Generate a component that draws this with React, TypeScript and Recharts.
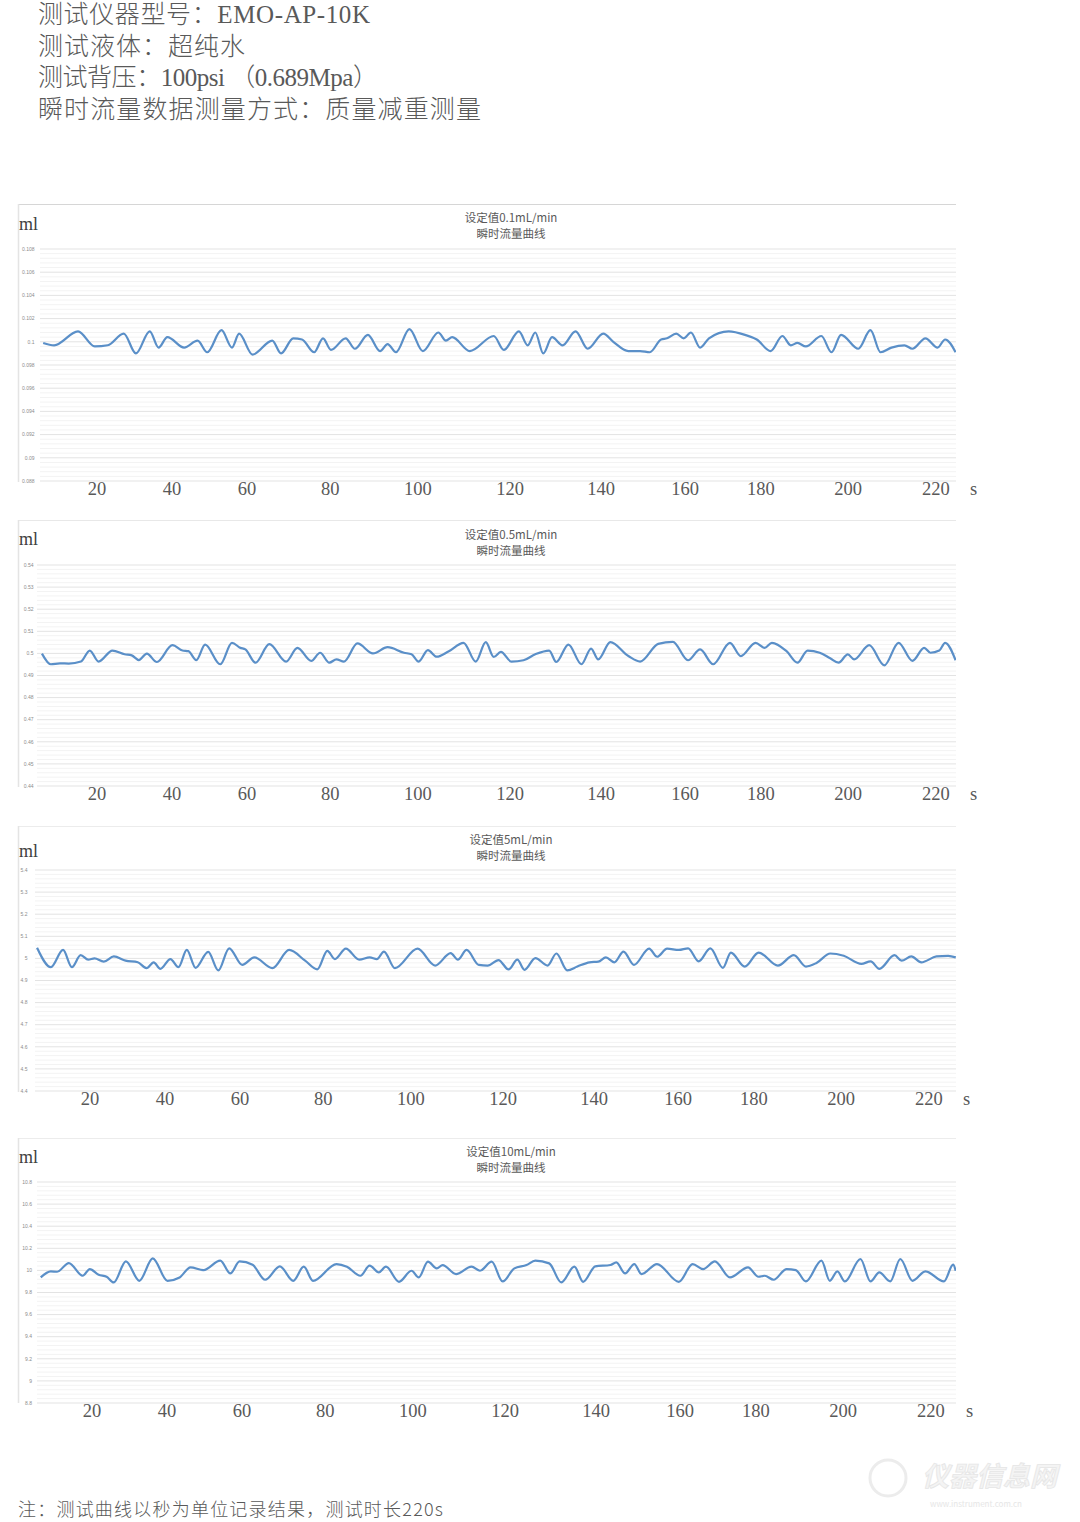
import React from 'react';
import { LineChart, Line, XAxis, YAxis, CartesianGrid, ReferenceLine } from 'recharts';

// x axis labels (seconds) and where they sit on the time scale of each chart
const tickLabels = ['20', '40', '60', '80', '100', '120', '140', '160', '180', '200', '220'];
const tickPos = [20, 37.9, 55.8, 75.6, 96.5, 118.5, 140.2, 160.2, 178.3, 199.1, 220];

// 设定值0.1mL/min
const t1 = [
  7.2, 9.8, 15.5, 19.5, 22.6, 26.4, 29.3, 32.6, 34.7, 36.8,
  40.8, 44.0, 46.3, 49.7, 52.2, 53.9, 57.1, 61.8, 63.9, 66.8,
  68.9, 71.8, 73.9, 75.8, 79.3, 81.5, 84.6, 87.5, 89.3, 91.3,
  94.5, 97.7, 101.4, 103.2, 104.7, 108.9, 114.6, 117.0, 120.6, 122.7,
  124.5, 126.4, 128.5, 131.0, 134.1, 137.0, 140.7, 143.1, 146.7, 149.5,
  151.8, 154.5, 155.9, 158.1, 159.9, 161.6, 163.8, 165.9, 170.6, 174.5,
  177.3, 180.6, 183.4, 185.4, 187.0, 189.0, 192.7, 195.1, 197.4, 201.5,
  204.4, 206.8, 209.4, 212.5, 214.4, 217.5, 220.4, 222.2, 224.7,
];
const v1 = [
  0.0999, 0.0997, 0.1009, 0.0996, 0.0997, 0.1007, 0.099, 0.1009, 0.0995, 0.1004,
  0.0995, 0.1001, 0.0991, 0.101, 0.0995, 0.1007, 0.0989, 0.1001, 0.099, 0.1003,
  0.1002, 0.0991, 0.1003, 0.0993, 0.1003, 0.0994, 0.1006, 0.0992, 0.0998, 0.0991,
  0.1011, 0.0992, 0.1008, 0.1001, 0.1004, 0.0992, 0.1005, 0.0993, 0.1009, 0.0997,
  0.1008, 0.099, 0.1004, 0.0997, 0.1009, 0.0994, 0.1007, 0.1, 0.0992, 0.0992,
  0.0991, 0.1002, 0.1003, 0.1007, 0.1003, 0.1008, 0.0995, 0.1003, 0.1009, 0.1006,
  0.1002, 0.0992, 0.1005, 0.0997, 0.0999, 0.0996, 0.1005, 0.0991, 0.1006, 0.0994,
  0.101, 0.0991, 0.0995, 0.0997, 0.0994, 0.1003, 0.0995, 0.1002, 0.0991,
];

// 设定值0.5mL/min
const t2 = [
  6.9, 9.0, 11.2, 13.3, 16.2, 18.3, 20.4, 23.7, 26.6, 28.3,
  30.0, 31.9, 34.3, 38.0, 40.4, 41.8, 43.7, 45.8, 49.4, 52.2,
  54.2, 55.4, 57.8, 61.1, 65.1, 67.8, 71.1, 73.2, 75.4, 77.1,
  78.9, 82.1, 85.8, 89.3, 93.2, 95.0, 96.7, 98.9, 101.0, 103.9,
  107.4, 110.3, 112.7, 114.6, 116.3, 118.8, 121.7, 124.5, 127.8, 129.5,
  132.4, 135.5, 137.8, 139.5, 142.4, 146.7, 149.5, 153.8, 157.3, 160.9,
  163.8, 166.9, 170.9, 173.5, 177.0, 179.2, 180.9, 184.4, 187.0, 189.4,
  192.3, 194.8, 196.8, 199.0, 200.5, 204.1, 207.7, 211.1, 214.4, 217.2,
  218.7, 220.8, 222.2, 224.7,
];
const v2 = [
  0.4999, 0.4951, 0.4955, 0.4954, 0.4963, 0.5013, 0.4963, 0.5013, 0.4996, 0.4991,
  0.497, 0.4999, 0.4961, 0.5037, 0.5013, 0.501, 0.497, 0.504, 0.4951, 0.5048,
  0.5025, 0.5018, 0.4958, 0.5042, 0.4963, 0.5025, 0.4966, 0.5003, 0.4958, 0.4973,
  0.4963, 0.5045, 0.5, 0.5028, 0.5003, 0.4996, 0.4963, 0.5015, 0.4985, 0.501,
  0.5048, 0.4963, 0.5051, 0.4984, 0.5007, 0.4963, 0.4969, 0.4996, 0.5013, 0.4961,
  0.504, 0.4951, 0.5022, 0.4973, 0.5051, 0.4988, 0.4963, 0.5043, 0.5052, 0.4969,
  0.5018, 0.4951, 0.5048, 0.4988, 0.5048, 0.5025, 0.5048, 0.501, 0.4958, 0.5013,
  0.5003, 0.4978, 0.4958, 0.4996, 0.4973, 0.5037, 0.4946, 0.5048, 0.4966, 0.5025,
  0.5003, 0.5013, 0.5048, 0.4969,
];

// 设定值5mL/min
const t3 = [
  7.4, 10.7, 13.6, 15.7, 17.8, 19.6, 21.1, 23.3, 25.7, 28.5,
  31.4, 33.5, 35.2, 36.8, 39.2, 41.1, 43.1, 45.2, 48.2, 50.6,
  53.2, 56.3, 59.2, 63.5, 67.5, 71.3, 74.2, 76.6, 78.4, 81.0,
  84.2, 86.7, 88.4, 90.1, 92.7, 98.1, 102.3, 106.0, 107.7, 109.8,
  112.7, 114.8, 117.4, 119.8, 121.9, 123.6, 126.2, 129.1, 131.2, 133.8,
  136.2, 139.1, 141.2, 143.0, 145.0, 147.2, 149.7, 153.3, 155.2, 157.6,
  160.4, 162.6, 165.1, 167.9, 170.9, 172.8, 176.1, 179.4, 184.0, 187.8,
  190.7, 193.2, 196.5, 199.7, 203.9, 206.1, 208.2, 211.8, 213.5, 215.8,
  218.2, 221.8, 224.6, 226.4,
];
const v3 = [
  5.0485, 4.9603, 5.0382, 4.9603, 5.0147, 4.9941, 5.0, 4.9853, 5.0088, 4.9897,
  4.9824, 4.9559, 4.9824, 4.9529, 4.9971, 4.9603, 5.0382, 4.9574, 5.0294, 4.9456,
  5.0456, 4.9706, 5.0044, 4.9559, 5.0382, 4.9897, 4.95, 5.0338, 4.9971, 5.0441,
  4.9941, 5.0044, 4.9971, 5.0309, 4.9559, 5.0441, 4.9676, 5.0235, 4.9941, 5.0382,
  4.9706, 4.9676, 4.9926, 4.95, 4.9941, 4.9485, 5.0015, 4.9676, 5.0221, 4.9456,
  4.9632, 4.9824, 4.9853, 5.0044, 4.9824, 5.0309, 4.9706, 5.0441, 5.0074, 5.0441,
  5.0382, 5.0456, 4.9868, 5.0456, 4.9574, 5.0265, 4.9632, 5.0265, 4.9676, 5.0147,
  4.9632, 4.9794, 5.0221, 5.0118, 4.975, 4.9868, 4.9529, 5.0147, 4.9897, 5.0088,
  4.9824, 5.0088, 5.0118, 5.0044,
];

// 设定值10mL/min
const t4 = [
  7.8, 10.2, 11.7, 14.5, 17.8, 19.5, 21.6, 23.5, 25.2, 28.1,
  31.3, 34.5, 38.0, 40.9, 43.5, 46.6, 50.6, 53.0, 55.2, 58.3,
  61.3, 64.8, 68.0, 70.5, 72.7, 78.3, 80.8, 84.0, 86.2, 88.4,
  90.1, 93.2, 96.2, 97.9, 100.1, 102.2, 103.6, 106.8, 110.5, 112.5,
  115.3, 117.9, 120.7, 123.6, 125.7, 129.0, 131.9, 135.0, 137.1, 140.0,
  143.6, 145.0, 147.1, 149.3, 151.0, 154.7, 159.9, 163.2, 165.7, 168.5,
  172.1, 176.4, 178.9, 180.4, 182.5, 185.6, 187.8, 190.2, 193.9, 195.9,
  197.7, 199.5, 203.2, 205.6, 207.7, 210.3, 212.7, 215.6, 218.7, 223.1,
  225.3, 225.9,
];
const v4 = [
  9.9364, 9.9909, 9.9879, 10.0667, 9.9515, 10.0121, 9.9606, 9.9424, 9.8909, 10.0818,
  9.9061, 10.1091, 9.9061, 9.9364, 10.0273, 10.003, 10.0879, 9.9727, 10.0818, 10.0515,
  9.9152, 10.0364, 9.9061, 10.0333, 9.9061, 10.0576, 10.0333, 9.9515, 10.0424, 9.9818,
  10.0333, 9.897, 9.997, 9.9364, 10.0788, 10.0182, 10.0485, 9.9667, 10.0333, 9.997,
  10.0788, 9.9, 10.0182, 10.0485, 10.0879, 10.0636, 9.8909, 10.0333, 9.897, 10.0364,
  10.0485, 10.0727, 9.9727, 10.0576, 9.9667, 10.0576, 9.897, 10.0576, 10.0121, 10.0818,
  9.9364, 10.0273, 9.9424, 9.9515, 9.9152, 10.0121, 10.003, 9.9, 10.0879, 9.9061,
  9.9909, 9.9, 10.103, 9.9, 9.9818, 9.9, 10.103, 9.9061, 9.9909, 9.9,
  10.0515, 9.997,
];

// y axis tick labels
const yTicks1 = ['0.088', '0.09', '0.092', '0.094', '0.096', '0.098', '0.1', '0.102', '0.104', '0.106', '0.108'];
const yTicks2 = ['0.44', '0.45', '0.46', '0.47', '0.48', '0.49', '0.5', '0.51', '0.52', '0.53', '0.54'];
const yTicks3 = ['4.4', '4.5', '4.6', '4.7', '4.8', '4.9', '5', '5.1', '5.2', '5.3', '5.4'];
const yTicks4 = ['8.8', '9', '9.2', '9.4', '9.6', '9.8', '10', '10.2', '10.4', '10.6', '10.8'];

const titles = ['设定值0.1mL/min', '设定值0.5mL/min', '设定值5mL/min', '设定值10mL/min'];
const subTitle = '瞬时流量曲线';

const header = [
  '测试仪器型号：EMO-AP-10K',
  '测试液体：超纯水',
  '测试背压：100psi （0.689Mpa）',
  '瞬时流量数据测量方式：质量减重测量',
];
const footer = '注：测试曲线以秒为单位记录结果，测试时长220s';

const LINE = '#5a8fc8';
const TEXT = '#595959';
const SERIF = '"Liberation Serif", "Noto Sans CJK SC", serif';
const CJK = '"Noto Sans CJK SC", "Liberation Sans", sans-serif';
const PLOT_RIGHT = 956;
const TOP_PAD = 6;

// widths the header lines take in the reference
const headerWidths = [332, 207, 340, 443];

const toRows = (ts: number[], vs: number[]) => ts.map((t, i) => ({ t, v: vs[i] }));

// 5 minor divisions between major gridlines
const minorOf = (major: number[]) =>
  major.slice(0, -1).flatMap((a, i) => [1, 2, 3, 4].map((k) => a + ((major[i + 1] - a) * k) / 5));

const panels = [
  { data: toRows(t1, v1), yTicks: yTicks1, frameTop: 204, frameBottom: 482, frameColor: '#d6d6d6',
    plotLeft: 40, plotTop: 249, plotBottom: 481, xDomain: [6.44, 224.79], labelEnd: 34.5,
    mlBase: 230, titleBase: 221.5, sX: 970 },
  { data: toRows(t2, v2), yTicks: yTicks2, frameTop: 520, frameBottom: 787, frameColor: '#e8e8e8',
    plotLeft: 37, plotTop: 565, plotBottom: 786, xDomain: [5.72, 224.79], labelEnd: 33.5,
    mlBase: 545, titleBase: 538.5, sX: 970 },
  { data: toRows(t3, v3), yTicks: yTicks3, frameTop: 826, frameBottom: 1092, frameColor: '#ececec',
    plotLeft: 35, plotTop: 870, plotBottom: 1091, xDomain: [6.91, 226.46], labelEnd: 27.5,
    mlBase: 857, titleBase: 843.5, sX: 963 },
  { data: toRows(t4, v4), yTicks: yTicks4, frameTop: 1138, frameBottom: 1403, frameColor: '#ececec',
    plotLeft: 37, plotTop: 1182, plotBottom: 1403, xDomain: [6.91, 225.98], labelEnd: 32,
    mlBase: 1163, titleBase: 1155.5, sX: 966 },
];

const XTick = (props: any) => {
  const { x, y, payload } = props;
  const i = tickPos.indexOf(payload.value);
  return (
    <text x={x} y={y} dy={14} textAnchor="middle" fontFamily={SERIF} fontSize={18.5} fill={TEXT}>
      {tickLabels[i]}
    </text>
  );
};

export default function App() {
  return (
    <div style={{ position: 'relative', width: 1080, height: 1522, background: '#fff', overflow: 'hidden' }}>
      <style>{'body{margin:0}'}</style>

      {/* static texts and frames */}
      <svg width={1080} height={1522} style={{ position: 'absolute', left: 0, top: 0 }}>
        {header.map((line, i) => (
          <text key={i} x={38} y={23 + i * 31.5} fontFamily={SERIF} fontWeight={300} fontSize={25} fill={TEXT}
            textLength={headerWidths[i]} lengthAdjust="spacing">
            {line}
          </text>
        ))}

        {panels.map((p, i) => (
          <g key={i}>
            <line x1={18} x2={PLOT_RIGHT} y1={p.frameTop + 0.5} y2={p.frameTop + 0.5} stroke={p.frameColor} />
            <line x1={18.5} x2={18.5} y1={p.frameTop} y2={p.frameBottom} stroke="#e4e4e4" strokeWidth={1.5} />
            <text x={19} y={p.mlBase} fontFamily={SERIF} fontSize={18} fill="#404040">ml</text>
            <text x={511} y={p.titleBase} textAnchor="middle" fontFamily={CJK} fontSize={11.5} fill={TEXT}>
              {titles[i]}
            </text>
            <text x={511} y={p.titleBase + 16} textAnchor="middle" fontFamily={CJK} fontSize={11.5} fill={TEXT}>
              {subTitle}
            </text>
            <text x={p.sX} y={p.plotBottom + 14} fontFamily={SERIF} fontSize={18.5} fill={TEXT}>s</text>
          </g>
        ))}

        <text x={18} y={1516} fontFamily={CJK} fontWeight={300} fontSize={18} fill={TEXT}
          textLength={425} lengthAdjust="spacing">{footer}</text>

        {/* watermark */}
        <circle cx={888} cy={1478} r={18} fill="none" stroke="#ececec" strokeWidth={3} />
        <text x={922} y={1486} fontFamily={CJK} fontWeight={700} fontStyle="italic" fontSize={27}
          fill="#f4f4f4" stroke="#e6e6e6" strokeWidth={0.8}>仪器信息网</text>
        <text x={930} y={1507} fontFamily={CJK} fontSize={8} fill="#e6e6e6">www.instrument.com.cn</text>
      </svg>

      {panels.map((p, i) => {
        const major = p.yTicks.map(Number);
        const minor = minorOf(major);
        return (
          <div key={i} style={{ position: 'absolute', left: 0, top: p.plotTop - TOP_PAD }}>
            <LineChart
              width={1080}
              height={p.plotBottom - p.plotTop + 40 + TOP_PAD}
              data={p.data}
              margin={{ top: TOP_PAD, right: 1080 - PLOT_RIGHT, bottom: 0, left: 0 }}
            >
              {minor.map((m) => (
                <ReferenceLine key={m} y={m} stroke="#f3f3f3" strokeWidth={1} />
              ))}
              <CartesianGrid vertical={false} stroke="#e3e3e3" />
              <XAxis
                type="number"
                dataKey="t"
                domain={p.xDomain}
                ticks={tickPos}
                interval={0}
                allowDataOverflow
                axisLine={false}
                tickLine={false}
                tickSize={0}
                tickMargin={0}
                height={40}
                tick={<XTick />}
              />
              <YAxis
                type="number"
                domain={[major[0], major[major.length - 1]]}
                ticks={major}
                interval={0}
                width={p.plotLeft}
                axisLine={false}
                tickLine={false}
                tickSize={0}
                tickMargin={p.plotLeft - p.labelEnd}
                tick={{ fontSize: 5, fill: '#8c8c8c', fontFamily: '"Liberation Sans", Arial, sans-serif' }}
              />
              <Line
                type="monotone"
                dataKey="v"
                stroke={LINE}
                strokeWidth={2.2}
                dot={false}
                activeDot={false}
                isAnimationActive={false}
              />
            </LineChart>
          </div>
        );
      })}
    </div>
  );
}
